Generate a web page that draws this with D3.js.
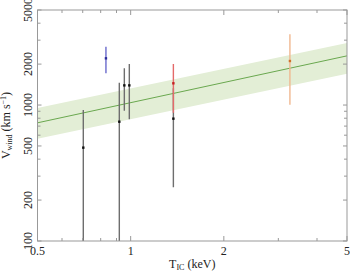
<!DOCTYPE html>
<html>
<head>
<meta charset="utf-8">
<script src="https://cdn.jsdelivr.net/npm/d3@7"></script>
<style>
  body { margin: 0; background: #fff; }
  text { font-family: "Liberation Serif", "DejaVu Serif", serif; fill: #222; }
</style>
</head>
<body>
<svg width="350" height="272"></svg>
<script>
// data
let temps   = [0.703, 0.919, 0.954, 0.990, 1.374, 0.832, 1.374, 3.27],
  winds     = [486, 754, 1395, 1395, 794, 2206, 1445, 2108],
  windLo    = [100, 100, 908, 785, 248, 1712, 879, 1003],
  windHi    = [919, 1460, 1863, 2004, 1327, 2687, 2004, 3313],
  barColors = ["#6e6e6e", "#6e6e6e", "#6e6e6e", "#6e6e6e", "#6e6e6e", "#6a6acc", "#e46a6a", "#f0b890"],
  dotColors = ["#111", "#111", "#111", "#111", "#111", "#2a2a9a", "#c42020", "#d0702a"];

// best fit and its band
let fitT = [0.5, 5],
  fitV = [740, 2300],
  bandLo = [565, 1700],
  bandHi = [950, 2860];

let xTicks = [0.5, 1, 2, 5],
  xMinor = [0.6, 0.7, 0.8, 0.9, 3, 4],
  yTicks = [100, 200, 500, 1000, 2000, 5000],
  yMinor = [300, 400, 600, 700, 800, 900, 3000, 4000];

// plot box
let pLeft = 37.5, pRight = 347, pTop = 10, pBottom = 241;

let x = d3.scaleLog().domain([0.5, 5]).range([pLeft, pRight]);
let y = d3.scaleLog().domain([100, 5000]).range([pBottom, pTop]);

let svg = d3.select("svg");

// band + line
let band = fitT.map((t, i) => ({t: t, lo: bandLo[i], hi: bandHi[i], v: fitV[i]}));

svg.append("path")
  .datum(band)
  .attr("fill", "#e3eed6")
  .attr("d", d3.area().x(d => x(d.t)).y0(d => y(d.lo)).y1(d => y(d.hi)));

svg.append("path")
  .datum(band)
  .attr("fill", "none")
  .attr("stroke", "#6aa84f")
  .attr("stroke-width", 1)
  .attr("d", d3.line().x(d => x(d.t)).y(d => y(d.v)));

// error bars
svg.append("clipPath").attr("id", "plot")
  .append("rect").attr("x", pLeft).attr("y", pTop)
  .attr("width", pRight - pLeft).attr("height", pBottom - pTop);

let g = svg.append("g").attr("clip-path", "url(#plot)");

g.selectAll("line.err")
  .data(temps)
  .enter()
  .append("line")
  .attr("class", "err")
  .attr("x1", d => x(d))
  .attr("x2", d => x(d))
  .attr("y1", (d, i) => y(windLo[i]))
  .attr("y2", (d, i) => y(windHi[i]))
  .attr("stroke", (d, i) => barColors[i])
  .attr("stroke-width", 1.4);

g.selectAll("rect.pt")
  .data(temps)
  .enter()
  .append("rect")
  .attr("class", "pt")
  .attr("x", d => x(d) - 1.2)
  .attr("y", (d, i) => y(winds[i]) - 1.2)
  .attr("width", 2.4)
  .attr("height", 2.4)
  .attr("fill", (d, i) => dotColors[i]);

// frame
svg.append("rect")
  .attr("x", pLeft).attr("y", pTop)
  .attr("width", pRight - pLeft).attr("height", pBottom - pTop)
  .attr("fill", "none")
  .attr("stroke", "#999")
  .attr("stroke-width", 1);

// ticks on all four sides, pointing inwards
function xTickMarks(vals, len) {
  vals.forEach(v => {
    svg.append("line").attr("x1", x(v)).attr("x2", x(v))
      .attr("y1", pBottom).attr("y2", pBottom - len).attr("stroke", "#999");
    svg.append("line").attr("x1", x(v)).attr("x2", x(v))
      .attr("y1", pTop).attr("y2", pTop + len).attr("stroke", "#999");
  });
}
function yTickMarks(vals, len) {
  vals.forEach(v => {
    svg.append("line").attr("y1", y(v)).attr("y2", y(v))
      .attr("x1", pLeft).attr("x2", pLeft + len).attr("stroke", "#999");
    svg.append("line").attr("y1", y(v)).attr("y2", y(v))
      .attr("x1", pRight).attr("x2", pRight - len).attr("stroke", "#999");
  });
}
xTickMarks(xTicks, 5);
xTickMarks(xMinor, 3);
yTickMarks(yTicks, 4);
yTickMarks(yMinor, 3);

// tick labels
svg.selectAll("text.xl")
  .data(xTicks)
  .enter()
  .append("text")
  .attr("x", d => x(d))
  .attr("y", 255)
  .attr("text-anchor", "middle")
  .attr("font-size", 12)
  .text(d => d);

svg.selectAll("text.yl")
  .data(yTicks)
  .enter()
  .append("text")
  .attr("transform", d => "translate(32," + y(d) + ") rotate(-90)")
  .attr("text-anchor", "middle")
  .attr("font-size", 12)
  .text(d => d);

// axis titles
let xt = svg.append("text")
  .attr("x", (pLeft + pRight) / 2)
  .attr("y", 268)
  .attr("text-anchor", "middle")
  .attr("font-size", 12);
xt.append("tspan").text("T");
xt.append("tspan").attr("font-size", 8).attr("dy", 2).text("IC");
xt.append("tspan").attr("dy", -2).text(" (keV)");

let yt = svg.append("text")
  .attr("transform", "translate(10," + (pTop + pBottom) / 2 + ") rotate(-90)")
  .attr("text-anchor", "middle")
  .attr("font-size", 12);
yt.append("tspan").text("V");
yt.append("tspan").attr("font-size", 8).attr("dy", 2).text("wind");
yt.append("tspan").attr("dy", -2).text(" (km s");
yt.append("tspan").attr("font-size", 8).attr("dy", -4).text("\u22121");
yt.append("tspan").attr("dy", 4).text(")");
</script>
</body>
</html>
